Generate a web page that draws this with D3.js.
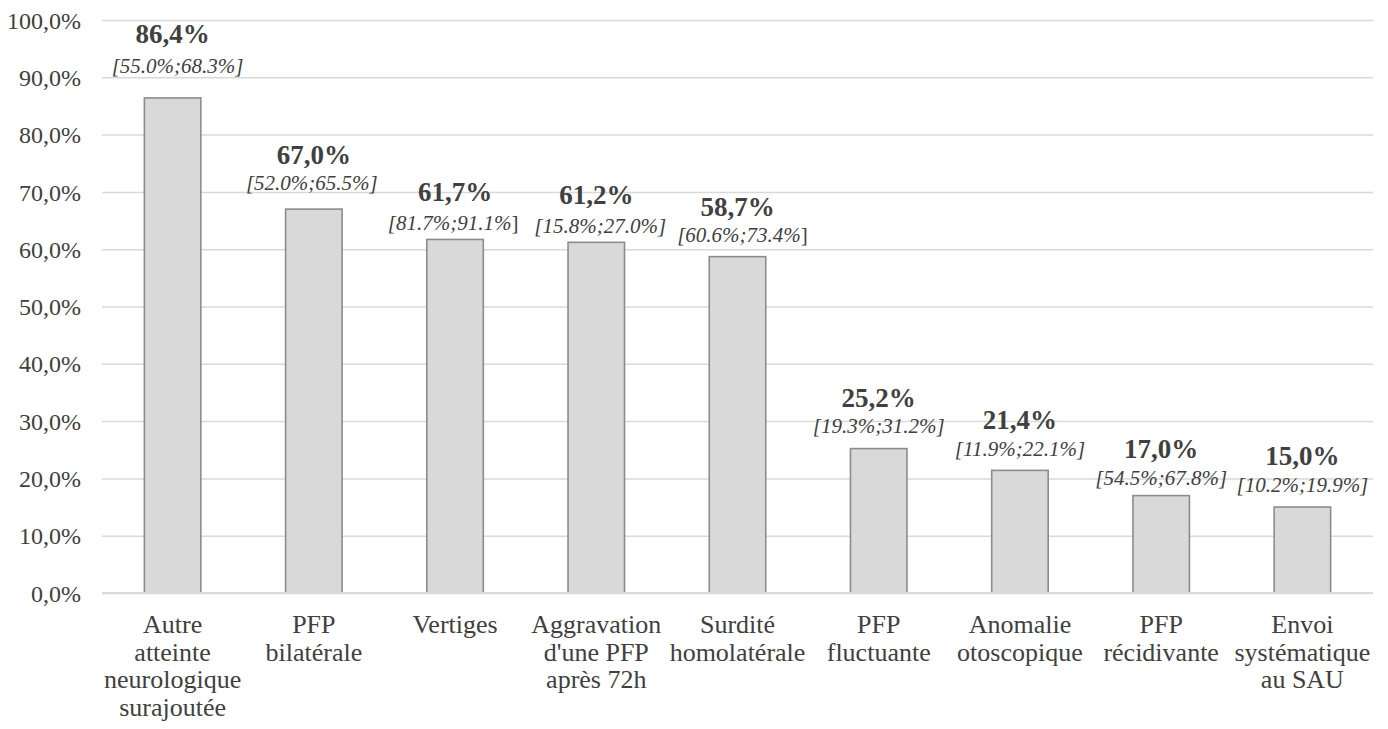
<!DOCTYPE html>
<html>
<head>
<meta charset="utf-8">
<script src="https://cdn.jsdelivr.net/npm/d3@7"></script>
<style>
  html, body { margin: 0; padding: 0; background: #ffffff; }
  svg text { font-family: "Liberation Serif", "Times New Roman", Times, "DejaVu Serif", serif; }
</style>
</head>
<body>
<svg id="chart" width="1388" height="729"></svg>
<script>
// Motifs d'orientation : pourcentage et intervalle de confiance
const categories = [
  ["Autre", "atteinte", "neurologique", "surajoutée"],
  ["PFP", "bilatérale"],
  ["Vertiges"],
  ["Aggravation", "d'une PFP", "après 72h"],
  ["Surdité", "homolatérale"],
  ["PFP", "fluctuante"],
  ["Anomalie", "otoscopique"],
  ["PFP", "récidivante"],
  ["Envoi", "systématique", "au SAU"]
];
const values = [86.4, 67.0, 61.7, 61.2, 58.7, 25.2, 21.4, 17.0, 15.0];
const intervals = [
  "[55.0%;68.3%]", "[52.0%;65.5%]", "[81.7%;91.1%]", "[15.8%;27.0%]",
  "[60.6%;73.4%]", "[19.3%;31.2%]", "[11.9%;22.1%]", "[54.5%;67.8%]", "[10.2%;19.9%]"
];
const yTicks = [0, 10, 20, 30, 40, 50, 60, 70, 80, 90, 100];

// Mise en page
const plot = { left: 102, right: 1373, top: 20, bottom: 593 };
const textColor = "#404040";

// Décalage vertical des étiquettes au-dessus de chaque barre
const valueLift = [55, 45, 38, 38, 41, 42, 41, 38, 42];
const ciLift = [25, 19, 9, 9, 15, 16, 14, 11, 15];
// Décalage horizontal des intervalles
const ciShift = [5, -2, -2, 4, 5, 0, 0, 0, 0];
// Intervalles dont le crochet fermant reste droit
const uprightClose = new Set([2, 4]);

const svg = d3.select("#chart");
const fr = d3.format(".1f");
const frFr = v => fr(v).replace(".", ",");

const x = d3.scaleBand()
  .domain(d3.range(values.length))
  .range([plot.left, plot.right])
  .paddingInner(0.6)
  .paddingOuter(0.3);

const y = d3.scaleLinear().domain([0, 100]).range([plot.bottom, plot.top]);

// Quadrillage horizontal et libellés de l'axe Y
const yAxis = d3.axisLeft(y)
  .tickValues(yTicks)
  .tickSize(-(plot.right - plot.left))
  .tickPadding(21)
  .tickFormat(d => frFr(d) + "%");

const gy = svg.append("g")
  .attr("transform", `translate(${plot.left},0)`)
  .call(yAxis)
  .attr("font-family", null)
  .attr("font-size", null);
gy.select(".domain").remove();
gy.selectAll(".tick line")
  .attr("stroke", "#d9d9d9")
  .attr("stroke-width", 1.5);
gy.selectAll(".tick text")
  .attr("fill", textColor)
  .attr("dy", "0.34em")
  .style("font-size", "24px");

// Barres
svg.append("g")
  .selectAll("rect")
  .data(values)
  .join("rect")
  .attr("x", (d, i) => x(i))
  .attr("y", d => y(d))
  .attr("width", x.bandwidth())
  .attr("height", d => y(0) - y(d))
  .attr("fill", "#d9d9d9")
  .attr("stroke", "#8c8c8c")
  .attr("stroke-width", 1.6);

// Ligne de base
svg.append("line")
  .attr("x1", plot.left).attr("x2", plot.right)
  .attr("y1", y(0)).attr("y2", y(0))
  .attr("stroke", "#d9d9d9")
  .attr("stroke-width", 2);

// Valeurs en gras
svg.append("g")
  .selectAll("text")
  .data(values)
  .join("text")
  .attr("x", (d, i) => x(i) + x.bandwidth() / 2)
  .attr("y", (d, i) => y(d) - valueLift[i])
  .attr("text-anchor", "middle")
  .style("font-size", "27px")
  .style("font-weight", "bold")
  .attr("fill", textColor)
  .text(d => frFr(d) + "%");

// Intervalles de confiance en italique
const ci = svg.append("g")
  .selectAll("text")
  .data(intervals)
  .join("text")
  .attr("x", (d, i) => x(i) + x.bandwidth() / 2 + ciShift[i])
  .attr("y", (d, i) => y(values[i]) - ciLift[i])
  .attr("text-anchor", "middle")
  .style("font-size", "21px")
  .attr("fill", textColor);
ci.each(function (d, i) {
  const t = d3.select(this);
  if (uprightClose.has(i)) {
    t.append("tspan").style("font-style", "italic").text(d.slice(0, -1));
    t.append("tspan").text(d.slice(-1));
  } else {
    t.append("tspan").style("font-style", "italic").text(d);
  }
});

// Libellés des catégories sur plusieurs lignes
const gx = svg.append("g")
  .selectAll("text")
  .data(categories)
  .join("text")
  .attr("text-anchor", "middle")
  .style("font-size", "26px")
  .attr("fill", textColor);
gx.each(function (lines, i) {
  const cx = x(i) + x.bandwidth() / 2;
  d3.select(this).selectAll("tspan")
    .data(lines)
    .join("tspan")
    .attr("x", cx)
    .attr("y", (l, k) => 633 + k * 27.7)
    .text(l => l);
});
</script>
</body>
</html>
